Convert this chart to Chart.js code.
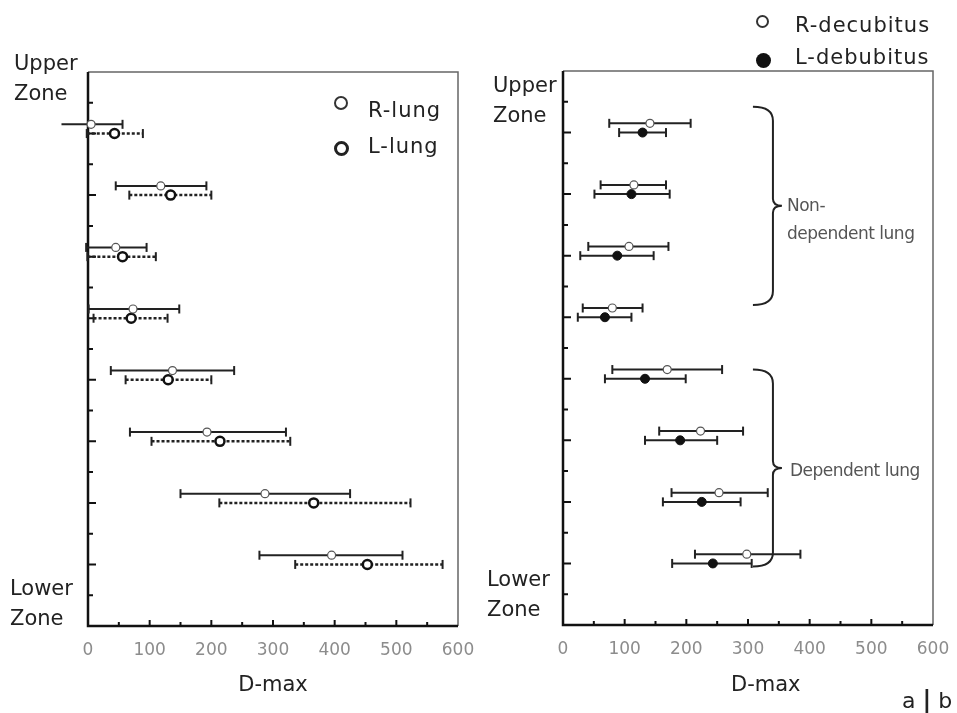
<!DOCTYPE html>
<html>
<head>
<meta charset="utf-8">
<title>D-max by lung zone</title>
<script src="https://cdn.jsdelivr.net/npm/chart.js@4.4.1/dist/chart.umd.min.js"></script>
<style>
  body { margin: 0; background: #fff; }
  #page { position: relative; width: 957px; height: 713px; overflow: hidden; font-family: "DejaVu Sans", sans-serif; color: #222; }
  canvas { position: absolute; top: 0; }
  .txt { position: absolute; white-space: nowrap; }
  .zone { font-size: 21px; line-height: 30px; }
  .leg { font-size: 21px; line-height: 24px; letter-spacing: 1px; }
  .note { font-size: 17px; line-height: 28px; color: #555; letter-spacing: -0.5px; }
  .dot { position: absolute; box-sizing: border-box; border-radius: 50%; }
</style>
</head>
<body>
<div id="page">
  <canvas id="chartA" width="478" height="713" style="left:0"></canvas>
  <canvas id="chartB" width="479" height="713" style="left:478px"></canvas>

  <div class="txt zone" style="left:14px;top:48px">Upper<br>Zone</div>
  <div class="txt zone" style="left:10px;top:573px">Lower<br>Zone</div>
  <div class="txt zone" style="left:493px;top:70px">Upper<br>Zone</div>
  <div class="txt zone" style="left:487px;top:564px">Lower<br>Zone</div>

  <span class="dot" style="left:334px;top:96px;width:14px;height:14px;border:2px solid #333"></span>
  <div class="txt leg" style="left:368px;top:98px">R-lung</div>
  <span class="dot" style="left:334px;top:141px;width:15px;height:15px;border:3px solid #222"></span>
  <div class="txt leg" style="left:368px;top:134px">L-lung</div>

  <span class="dot" style="left:756px;top:15px;width:13px;height:13px;border:2px solid #333"></span>
  <div class="txt leg" style="left:795px;top:13px">R-decubitus</div>
  <span class="dot" style="left:756px;top:53px;width:15px;height:15px;background:#111"></span>
  <div class="txt leg" style="left:795px;top:45px">L-debubitus</div>

  <div class="txt note" style="left:787px;top:191px">Non-<br>dependent lung</div>
  <div class="txt note" style="left:790px;top:456px">Dependent lung</div>

  <div class="txt" style="left:731px;top:671px;font-size:21px;line-height:26px">D-max</div>
  <div class="txt" style="left:902px;top:686px;font-size:22px;line-height:28px">a <b style="font-size:24px">|</b> b</div>
</div>

<script>
// zones from upper (1) to lower (8)
const zoneRows = [1, 2, 3, 4, 5, 6, 7, 8];
const xTicks = [0, 100, 200, 300, 400, 500, 600];

// a : R-lung / L-lung, mean and range of D-max
const rLungMean = [5, 118, 45, 73, 137, 193, 287, 395];
const rLungLow = [-43, 45, -3, 1, 37, 68, 150, 278];
const rLungHigh = [56, 192, 95, 148, 237, 321, 425, 510];
const lLungMean = [43, 134, 56, 70, 130, 214, 366, 453];
const lLungLow = [-2, 67, -1, 9, 61, 103, 213, 336];
const lLungHigh = [89, 200, 110, 129, 200, 328, 523, 575];

// b : R-decubitus / L-decubitus
const rDecMean = [141, 115, 107, 80, 169, 223, 253, 298];
const rDecLow = [75, 61, 41, 32, 80, 156, 176, 214];
const rDecHigh = [207, 167, 171, 129, 258, 292, 332, 385];
const lDecMean = [129, 111, 88, 68, 133, 190, 225, 243];
const lDecLow = [91, 51, 28, 24, 68, 133, 162, 177];
const lDecHigh = [167, 173, 147, 111, 199, 250, 288, 306];

// row position on the y scale: each zone takes 2 units, R sits a bit above L
const rowY = (zone, shift) => zone * 2 + shift;

function rangeSets(low, high, shift, color, width, dash) {
  return zoneRows.map((z, i) => ({
    data: [{ x: low[i], y: rowY(z, shift) }, { x: high[i], y: rowY(z, shift) }],
    showLine: true,
    borderColor: color,
    borderWidth: width,
    borderDash: dash,
    pointStyle: "line",
    pointRotation: 90,
    pointRadius: 4.5,
    pointBorderWidth: 2,
    pointBorderColor: color,
    pointHoverRadius: 4.5,
    clip: false,
    order: 2,
  }));
}

function meanSet(mean, shift, style) {
  return Object.assign({
    data: zoneRows.map((z, i) => ({ x: mean[i], y: rowY(z, shift) })),
    showLine: false,
    pointStyle: "circle",
    clip: false,
    order: 0,
  }, style);
}

// box, inner tick marks
const frame = {
  id: "frame",
  beforeDatasetsDraw(chart) {
    const { ctx, chartArea: a, scales: { x, y } } = chart;
    ctx.save();
    ctx.strokeStyle = "#666";
    ctx.lineWidth = 1.5;
    ctx.beginPath();
    ctx.moveTo(a.left, a.top);
    ctx.lineTo(a.right, a.top);
    ctx.lineTo(a.right, a.bottom);
    ctx.stroke();
    ctx.strokeStyle = "#111";
    ctx.lineWidth = 2.5;
    ctx.beginPath();
    ctx.moveTo(a.left, a.top);
    ctx.lineTo(a.left, a.bottom);
    ctx.lineTo(a.right, a.bottom);
    ctx.stroke();
    ctx.lineWidth = 2;
    ctx.beginPath();
    for (let v = 1; v < 18; v++) {
      const py = y.getPixelForValue(v);
      ctx.moveTo(a.left, py);
      ctx.lineTo(a.left + (v % 2 === 0 ? 8 : 5), py);
    }
    for (let v = 50; v < 600; v += 50) {
      const px = x.getPixelForValue(v);
      ctx.moveTo(px, a.bottom);
      ctx.lineTo(px, a.bottom - (v % 100 === 0 ? 6 : 4));
    }
    ctx.stroke();
    ctx.restore();
  },
};

// curly braces on panel b
const braceMarks = {
  id: "braceMarks",
  afterDatasetsDraw(chart, args, opts) {
    const { ctx, scales: { x, y } } = chart;
    (opts.items || []).forEach((b) => {
      const x0 = x.getPixelForValue(b.x);
      const x1 = x0 + 20;
      const x2 = x0 + 29;
      const yT = y.getPixelForValue(b.from);
      const yB = y.getPixelForValue(b.to);
      const yM = (yT + yB) / 2;
      const r = 14;
      ctx.save();
      ctx.strokeStyle = "#222";
      ctx.lineWidth = 2;
      ctx.beginPath();
      ctx.moveTo(x0, yT);
      ctx.quadraticCurveTo(x1, yT, x1, yT + r);
      ctx.lineTo(x1, yM - 7);
      ctx.quadraticCurveTo(x1, yM, x2, yM);
      ctx.quadraticCurveTo(x1, yM, x1, yM + 7);
      ctx.lineTo(x1, yB - r);
      ctx.quadraticCurveTo(x1, yB, x0, yB);
      ctx.stroke();
      ctx.restore();
    });
  },
};

function makeOptions(pad, braces, showTitle) {
  return {
    responsive: false,
    animation: false,
    layout: { padding: pad },
    plugins: {
      legend: { display: false },
      tooltip: { enabled: false },
      braceMarks: { items: braces },
    },
    scales: {
      x: {
        type: "linear",
        min: 0,
        max: 600,
        afterBuildTicks: (s) => { s.ticks = xTicks.map((v) => ({ value: v })); },
        border: { display: false },
        grid: { display: false, drawTicks: false },
        ticks: { color: "#8c8c8c", padding: 14, font: { family: "DejaVu Sans", size: 17 } },
        title: { display: showTitle, text: "D-max", color: "#222", padding: { top: 0, bottom: 8 }, font: { family: "DejaVu Sans", size: 21 } },
        afterFit: (s) => { s.height = 80; s.paddingLeft = 0; s.paddingRight = 0; },
      },
      y: { type: "linear", min: 0, max: 18, reverse: true, display: false },
    },
  };
}

const chartA = new Chart(document.getElementById("chartA"), {
  type: "scatter",
  data: {
    datasets: [
      meanSet(rLungMean, -0.3, { pointRadius: 4, pointBackgroundColor: "#fff", pointBorderColor: "#555", pointBorderWidth: 1.2 }),
      meanSet(lLungMean, 0, { pointRadius: 4.5, pointBackgroundColor: "#fff", pointBorderColor: "#111", pointBorderWidth: 2.5 }),
      ...rangeSets(rLungLow, rLungHigh, -0.3, "#222", 2, []),
      ...rangeSets(lLungLow, lLungHigh, 0, "#222", 2.5, [3, 2]),
    ],
  },
  options: makeOptions({ left: 88, right: 20, top: 72, bottom: 7 }, [], true),
  plugins: [frame, braceMarks],
});

// panel b: its axis title sits right of centre, placed as page text above
const chartB = new Chart(document.getElementById("chartB"), {
  type: "scatter",
  data: {
    datasets: [
      meanSet(rDecMean, -0.3, { pointRadius: 4, pointBackgroundColor: "#fff", pointBorderColor: "#555", pointBorderWidth: 1.2 }),
      meanSet(lDecMean, 0, { pointRadius: 4.5, pointBackgroundColor: "#111", pointBorderColor: "#111", pointBorderWidth: 1 }),
      ...rangeSets(rDecLow, rDecHigh, -0.3, "#222", 2, []),
      ...rangeSets(lDecLow, lDecHigh, 0, "#222", 2, []),
    ],
  },
  options: makeOptions({ left: 85, right: 24, top: 71, bottom: 8 }, [
    { x: 308, from: 1.16, to: 7.6 },
    { x: 308, from: 9.7, to: 16.1 },
  ], false),
  plugins: [frame, braceMarks],
});
</script>
</body>
</html>
